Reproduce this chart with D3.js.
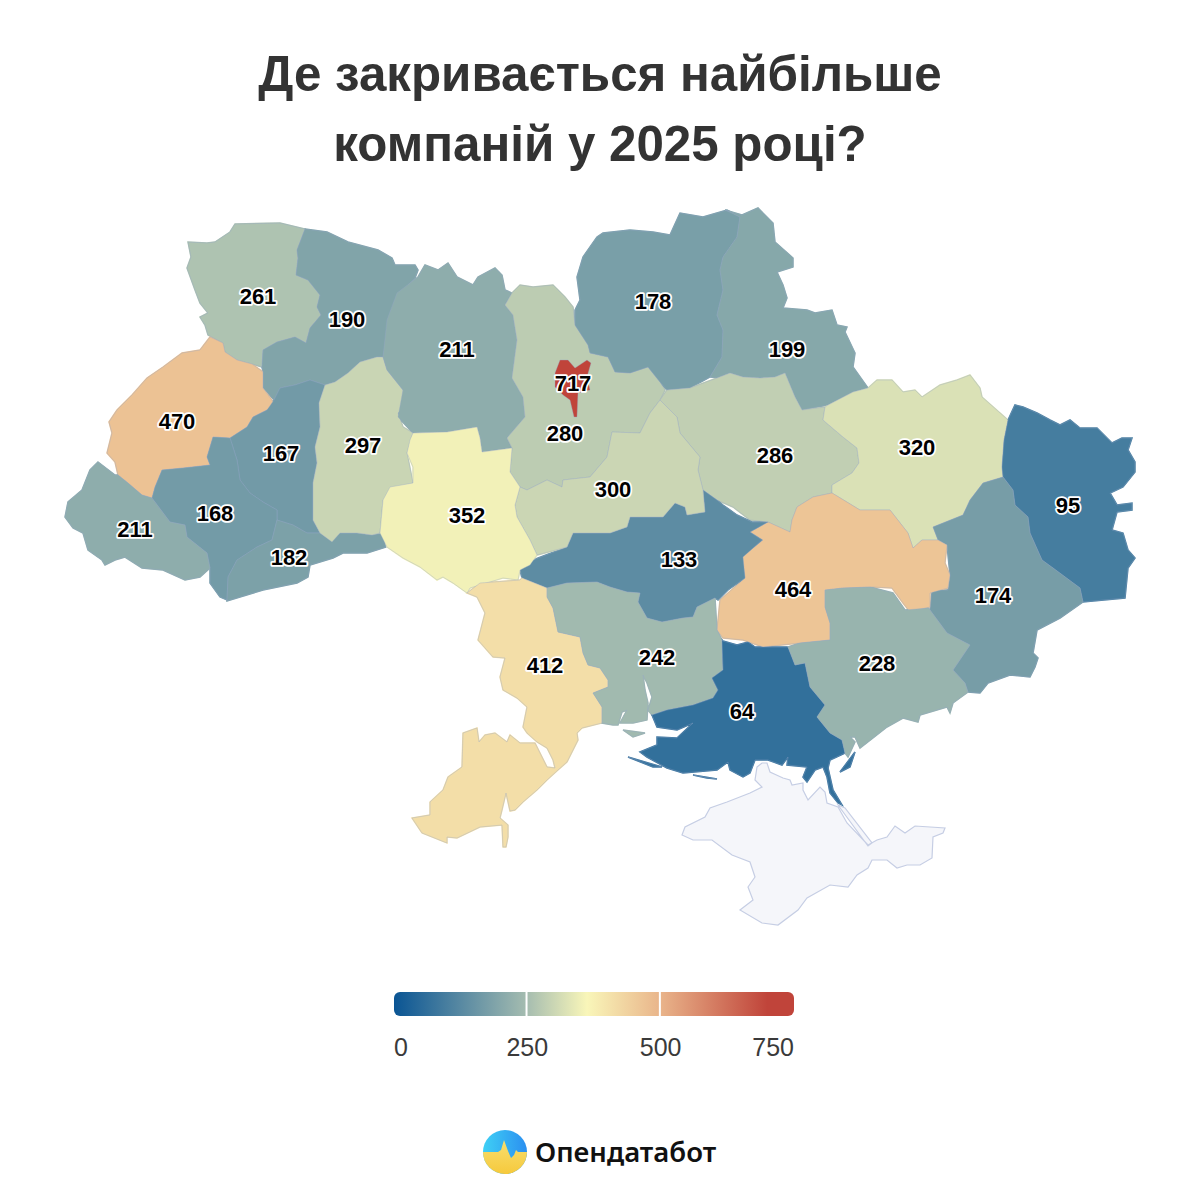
<!DOCTYPE html>
<html lang="uk">
<head>
<meta charset="utf-8">
<title>Де закривається найбільше компаній у 2025 році?</title>
<script src="https://cdn.jsdelivr.net/npm/d3@7"></script>
<style>
    html, body { margin: 0; padding: 0; background: #fff; }
    svg { display: block; }
    text { font-family: "Liberation Sans", Arial, sans-serif; }
</style>
</head>
<body>
<svg id="chart" width="1200" height="1200"></svg>
<script>
// Values
const regionNames = ['Волинська', 'Рівненська', 'Львівська', 'Тернопільська', 'Івано-Франківська', 'Закарпатська',
    'Чернівецька', 'Хмельницька', 'Житомирська', 'Київська', 'Чернігівська', 'Сумська', 'Полтавська', 'Харківська',
    'Луганська', 'Донецька', 'Дніпропетровська', 'Кіровоградська', 'Черкаська', 'Вінницька', 'Одеська',
    'Миколаївська', 'Херсонська', 'Запорізька', 'Київ'];
const regionValues = [261, 190, 470, 167, 168, 211, 182, 297, 211, 280, 178, 199, 286, 320, 95, 174, 464, 133, 300, 352, 412, 242, 64, 228, 717];

// Where each number sits on the map, same order as regionNames
const labelPoints = [[258, 297], [347, 320], [177, 422], [281, 454], [215, 514], [135, 530], [289, 558], [363, 446],
    [457, 350], [565, 434], [653, 302], [787, 350], [775, 456], [917, 448], [1068, 506], [993, 596], [793, 590],
    [679, 560], [613, 490], [467, 516], [545, 666], [657, 658], [742, 712], [877, 664], [573, 384]];

// Outlines, same order as regionNames
const regionOutlines = [
    [[[235,224],[280,223],[305,229],[297,250],[298,258],[296,275],[308,280],[320,295],[317,307],[321,315],[310,328],[306,343],[295,337],[277,342],[263,350],[262,367],[252,364],[237,360],[225,352],[223,343],[208,335],[205,325],[200,317],[208,313],[200,303],[195,290],[187,268],[191,257],[188,242],[207,243],[215,242],[230,232]]],
    [[[305,229],[327,232],[348,242],[378,250],[392,258],[395,265],[415,265],[418,270],[415,278],[403,290],[398,302],[390,315],[387,333],[385,347],[383,357],[377,357],[360,362],[348,373],[335,382],[325,385],[310,380],[295,385],[280,388],[274,400],[263,388],[263,372],[262,367],[263,350],[277,342],[295,337],[306,343],[310,328],[321,315],[317,307],[320,295],[308,280],[296,275],[298,258],[297,250]]],
    [[[210,337],[223,343],[225,352],[237,360],[252,364],[263,372],[263,388],[274,403],[267,410],[253,417],[247,427],[230,438],[213,437],[207,457],[210,465],[183,468],[162,470],[155,487],[152,498],[142,495],[128,483],[118,475],[115,462],[107,453],[112,433],[109,422],[117,410],[132,395],[147,378],[163,367],[182,353],[200,350]]],
    [[[274,400],[280,388],[295,385],[310,380],[325,385],[319,403],[320,427],[315,447],[317,463],[313,483],[313,520],[320,533],[307,533],[293,525],[277,520],[277,510],[263,502],[250,493],[240,480],[237,460],[230,438],[247,427],[253,417],[267,410]]],
    [[[213,437],[230,438],[237,460],[240,480],[250,493],[263,502],[277,510],[277,520],[272,540],[257,547],[237,560],[228,577],[227,600],[220,597],[210,583],[210,568],[207,553],[187,537],[185,525],[170,522],[152,498],[155,487],[162,470],[183,468],[210,465],[207,457]]],
    [[[98,462],[115,475],[118,475],[128,483],[142,495],[152,498],[170,522],[185,525],[187,537],[207,553],[210,568],[200,577],[185,580],[163,570],[142,568],[125,557],[115,560],[105,565],[102,560],[88,550],[83,533],[73,528],[65,517],[68,502],[82,490],[90,470]]],
    [[[277,520],[293,525],[307,533],[320,533],[330,540],[340,533],[357,533],[372,535],[383,533],[386,547],[367,553],[343,553],[333,558],[310,565],[308,577],[297,583],[263,590],[240,597],[227,601],[228,577],[237,560],[257,547],[272,540]]],
    [[[377,357],[383,357],[387,370],[403,390],[404,407],[398,413],[403,427],[413,433],[407,453],[413,483],[398,487],[383,500],[380,533],[372,535],[357,533],[340,533],[332,542],[320,533],[313,520],[313,483],[317,463],[315,447],[320,427],[319,403],[325,385],[335,382],[348,373],[360,362]]],
    [[[418,277],[425,265],[438,270],[448,263],[457,277],[473,285],[478,277],[495,268],[502,275],[505,290],[512,293],[505,305],[513,315],[517,340],[512,378],[523,397],[525,417],[507,438],[512,448],[482,452],[480,438],[477,427],[447,432],[413,433],[398,417],[403,390],[387,370],[383,357],[387,320],[397,293]]],
    [[[512,293],[520,285],[533,287],[553,285],[565,297],[573,307],[575,325],[588,345],[590,353],[608,357],[615,372],[630,373],[648,367],[660,382],[665,390],[660,400],[650,413],[640,433],[612,432],[607,457],[590,477],[563,480],[562,487],[547,480],[527,490],[520,487],[510,472],[512,448],[507,438],[525,417],[523,397],[512,378],[517,340],[513,315],[505,305]]],
    [[[575,310],[580,300],[577,277],[583,257],[597,237],[603,233],[630,230],[653,232],[670,235],[680,213],[703,217],[727,210],[740,217],[737,237],[723,257],[720,270],[723,290],[717,315],[723,330],[722,357],[710,377],[690,388],[667,390],[660,382],[648,367],[630,373],[615,372],[608,357],[590,353],[588,345],[575,325]]],
    [[[725,210],[742,215],[758,208],[773,223],[775,242],[793,258],[793,267],[777,272],[783,285],[787,298],[783,308],[807,310],[815,313],[832,310],[837,325],[847,327],[845,332],[855,353],[853,367],[868,388],[853,392],[828,405],[802,410],[795,397],[785,373],[775,377],[760,378],[743,377],[730,373],[717,378],[710,377],[722,357],[723,330],[717,315],[723,290],[720,270],[723,257],[737,237],[740,217]]],
    [[[667,390],[690,388],[717,378],[730,373],[743,377],[760,378],[775,377],[785,373],[795,397],[802,410],[825,407],[823,420],[843,437],[857,448],[859,463],[852,473],[832,485],[832,493],[813,497],[797,507],[792,520],[790,532],[768,522],[750,520],[733,507],[717,500],[703,490],[698,470],[700,457],[680,433],[677,417],[660,400]]],
    [[[825,407],[828,405],[853,392],[868,388],[877,380],[892,380],[903,392],[915,390],[922,397],[940,385],[957,380],[970,375],[980,388],[982,397],[1008,420],[1004,440],[1002,467],[1003,477],[983,483],[970,500],[963,515],[933,527],[938,540],[922,540],[913,548],[908,533],[890,510],[860,510],[832,493],[832,485],[852,473],[859,463],[857,448],[843,437],[823,420]]],
    [[[1008,420],[1015,405],[1023,407],[1037,413],[1050,420],[1060,425],[1070,420],[1080,428],[1097,428],[1112,443],[1122,438],[1132,438],[1128,450],[1135,462],[1135,472],[1123,487],[1110,493],[1117,505],[1132,503],[1132,510],[1117,512],[1112,530],[1123,533],[1128,550],[1135,558],[1128,568],[1125,598],[1083,602],[1080,588],[1053,568],[1042,560],[1030,533],[1028,517],[1015,505],[1013,490],[1003,477],[1002,467],[1004,440]]],
    [[[983,483],[1003,477],[1013,490],[1015,505],[1028,517],[1030,533],[1042,560],[1053,568],[1080,588],[1083,602],[1060,618],[1037,630],[1033,653],[1038,658],[1035,667],[1030,677],[1010,675],[988,683],[980,693],[968,692],[965,683],[953,670],[970,645],[947,633],[930,610],[932,590],[948,590],[950,575],[947,545],[938,540],[933,527],[963,515],[970,500]]],
    [[[832,493],[860,510],[890,510],[908,533],[913,548],[922,540],[938,540],[947,545],[945,563],[950,575],[948,588],[930,593],[930,607],[910,612],[903,603],[892,588],[873,587],[843,588],[825,590],[825,607],[830,623],[830,640],[800,643],[763,647],[743,640],[723,638],[717,630],[720,600],[745,578],[742,557],[763,540],[750,532],[768,522],[790,532],[792,520],[797,507],[813,497]]],
    [[[520,570],[533,560],[567,547],[573,533],[610,533],[627,527],[630,517],[663,517],[675,503],[685,507],[687,515],[705,512],[703,490],[717,500],[723,505],[737,515],[752,522],[768,522],[750,532],[762,540],[743,557],[745,578],[728,590],[718,600],[715,598],[697,607],[693,617],[683,618],[662,622],[647,618],[638,602],[640,593],[627,592],[610,587],[597,582],[567,583],[547,588],[522,578]]],
    [[[660,400],[677,417],[680,433],[700,457],[698,470],[703,490],[705,512],[687,515],[685,507],[675,503],[663,517],[630,517],[627,527],[610,533],[573,533],[567,547],[537,555],[530,540],[517,517],[515,505],[520,487],[527,490],[547,480],[562,487],[563,480],[590,477],[607,457],[612,432],[640,433],[650,413]]],
    [[[413,433],[447,432],[477,427],[480,438],[482,452],[512,448],[510,472],[520,487],[515,505],[517,517],[530,540],[537,555],[530,565],[520,570],[518,580],[503,578],[470,588],[467,593],[453,583],[443,577],[437,580],[420,567],[403,558],[387,547],[380,533],[383,500],[390,487],[413,483],[413,467],[407,453],[410,440]]],
    [[[467,593],[480,583],[520,580],[522,578],[547,588],[547,597],[553,608],[558,632],[580,637],[583,653],[588,665],[600,668],[608,680],[608,687],[593,693],[602,707],[602,723],[582,728],[577,733],[578,740],[567,762],[558,770],[547,780],[537,790],[523,802],[515,810],[510,811],[506,793],[502,810],[500,818],[508,825],[508,837],[506,847],[503,847],[502,825],[480,827],[457,838],[447,837],[447,843],[422,833],[412,818],[430,815],[430,802],[443,790],[448,777],[462,767],[463,733],[477,728],[479,742],[485,735],[495,733],[507,742],[510,735],[520,743],[535,743],[547,767],[555,768],[553,760],[547,748],[537,742],[527,733],[523,727],[527,707],[517,698],[503,690],[500,677],[505,658],[493,657],[478,640],[485,613],[477,597]]],
    [[[547,588],[567,583],[597,582],[610,587],[627,592],[640,593],[638,602],[647,618],[662,622],[683,618],[693,617],[697,607],[715,598],[717,630],[722,640],[723,670],[712,678],[718,690],[713,698],[693,705],[667,710],[652,715],[648,710],[652,697],[647,683],[643,675],[645,690],[648,703],[647,720],[633,723],[620,723],[627,710],[622,712],[618,725],[613,725],[602,723],[602,707],[593,693],[608,687],[608,680],[600,668],[588,665],[583,653],[580,637],[558,632],[553,608],[547,597]],
     [[623,730],[645,733],[633,737]]],
    [[[723,641],[737,645],[748,642],[755,647],[788,647],[795,665],[805,663],[810,687],[825,705],[817,717],[830,733],[842,740],[845,753],[830,760],[828,768],[833,790],[842,805],[838,803],[830,793],[827,777],[823,767],[815,770],[807,782],[803,777],[807,767],[787,765],[788,757],[782,765],[768,760],[755,760],[750,773],[743,777],[730,770],[728,762],[717,770],[683,773],[667,768],[647,757],[640,752],[657,745],[657,737],[677,738],[693,723],[677,730],[657,727],[652,715],[667,710],[693,705],[713,698],[718,690],[712,678],[723,670],[722,640]],
     [[628,757],[662,767],[653,767]],
     [[693,775],[717,779],[707,778]],
     [[840,772],[855,752],[850,767]]],
    [[[825,590],[843,588],[870,587],[893,593],[905,610],[928,608],[930,610],[947,633],[970,645],[953,670],[965,683],[968,692],[953,703],[950,713],[947,707],[920,715],[918,722],[903,718],[887,727],[873,738],[860,748],[855,737],[850,737],[855,742],[848,757],[845,753],[842,740],[830,733],[817,717],[825,705],[810,687],[805,663],[795,665],[788,647],[800,643],[830,640],[830,623],[825,607]]],
    [[[560,360],[568,360],[575,368],[587,360],[591,363],[587,377],[590,390],[578,393],[577,417],[574,417],[570,400],[563,395],[555,387],[555,373]]]
];

const crimeaOutline = [
    [[757,767],[762,763],[767,763],[770,772],[783,778],[790,780],[792,785],[803,783],[803,790],[808,800],[820,787],[825,792],[827,803],[838,807],[847,823],[868,845],[877,840],[887,837],[895,826],[905,833],[915,826],[945,828],[943,833],[933,837],[932,858],[920,865],[907,865],[897,868],[887,860],[872,860],[868,868],[857,875],[848,887],[830,885],[807,898],[798,910],[778,925],[762,923],[740,910],[753,900],[748,887],[755,877],[750,862],[732,855],[712,840],[693,840],[682,835],[685,827],[705,817],[710,808],[727,802],[750,793],[762,787],[755,780]],
    [[838,805],[845,808],[872,843],[868,846]]
];

const titleLines = ['Де закривається найбільше', 'компаній у 2025 році?'];
const legendTicks = [0, 250, 500, 750];
const colorDomain = [0, 250, 362, 500, 700, 750];
const colorRange = ['#0a5594', '#a6bdb0', '#f9f6b9', '#e9b48a', '#c0443a', '#c0443a'];

const svg = d3.select('#chart');
const color = d3.scaleLinear().domain(colorDomain).range(colorRange);
const path = d3.geoPath(d3.geoIdentity());

const asFeature = (rings) => ({
    type: 'Feature',
    geometry: { type: 'MultiPolygon', coordinates: rings.map(r => [[...r, r[0]]]) }
});

// Title
svg.append('g').selectAll('text')
    .data(titleLines)
    .enter()
    .append('text')
    .attr('x', 600)
    .attr('y', (d, i) => 91 + i * 70)
    .attr('text-anchor', 'middle')
    .attr('font-size', 49.3)
    .attr('font-weight', 700)
    .attr('fill', '#333')
    .text(d => d);

// Map
const map = svg.append('g').attr('class', 'map');

map.append('path')
    .datum(asFeature(crimeaOutline))
    .attr('d', path)
    .attr('fill', '#f5f6fa')
    .attr('stroke', '#c6cee4')
    .attr('stroke-width', 1.2);

// Under-layer closes hairline gaps between neighbours
map.append('g').selectAll('path')
    .data(regionOutlines)
    .enter()
    .append('path')
    .attr('d', d => path(asFeature(d)))
    .attr('fill', (d, i) => color(regionValues[i]))
    .attr('stroke', (d, i) => color(regionValues[i]))
    .attr('stroke-width', 1.5);

map.append('g').selectAll('path')
    .data(regionOutlines)
    .enter()
    .append('path')
    .attr('class', 'region')
    .attr('d', d => path(asFeature(d)))
    .attr('fill', (d, i) => color(regionValues[i]))
    .attr('stroke', 'rgba(150, 165, 200, 0.35)')
    .attr('stroke-width', 1)
    .append('title')
    .text((d, i) => `${regionNames[i]}: ${regionValues[i]}`);

// Numbers
map.append('g').selectAll('text')
    .data(regionValues)
    .enter()
    .append('text')
    .attr('x', (d, i) => labelPoints[i][0])
    .attr('y', (d, i) => labelPoints[i][1])
    .attr('dy', '0.32em')
    .attr('text-anchor', 'middle')
    .attr('font-size', 22)
    .attr('font-weight', 700)
    .attr('fill', '#000')
    .attr('stroke', '#fff')
    .attr('stroke-width', 3.5)
    .attr('stroke-linejoin', 'round')
    .attr('paint-order', 'stroke')
    .text(d => d);

// Legend
const legendX = d3.scaleLinear().domain([0, 750]).range([394, 794]);
const defs = svg.append('defs');
const legendGradient = defs.append('linearGradient').attr('id', 'legend-gradient');
legendGradient.selectAll('stop')
    .data(colorDomain)
    .enter()
    .append('stop')
    .attr('offset', d => d / 750)
    .attr('stop-color', d => color(d));

const legend = svg.append('g').attr('class', 'legend');
legend.append('rect')
    .attr('x', legendX(0))
    .attr('y', 992)
    .attr('width', legendX(750) - legendX(0))
    .attr('height', 24)
    .attr('rx', 6)
    .attr('fill', 'url(#legend-gradient)');

legend.selectAll('line')
    .data(legendTicks.slice(1, -1))
    .enter()
    .append('line')
    .attr('x1', d => legendX(d) - 0.8)
    .attr('x2', d => legendX(d) - 0.8)
    .attr('y1', 992)
    .attr('y2', 1016)
    .attr('stroke', '#fff')
    .attr('stroke-width', 2);

legend.selectAll('text')
    .data(legendTicks)
    .enter()
    .append('text')
    .attr('x', d => legendX(d))
    .attr('y', 1056)
    .attr('text-anchor', (d, i) => i === 0 ? 'start' : i === legendTicks.length - 1 ? 'end' : 'middle')
    .attr('font-size', 25)
    .attr('fill', '#3a3a3a')
    .text(d => d);

// Logo
const logo = svg.append('g').attr('class', 'logo').attr('transform', 'translate(505, 1152)');
const skyGradient = defs.append('linearGradient').attr('id', 'logo-sky').attr('x1', 0).attr('y1', 0).attr('x2', 1).attr('y2', 0);
skyGradient.append('stop').attr('offset', 0).attr('stop-color', '#3fd0f5');
skyGradient.append('stop').attr('offset', 1).attr('stop-color', '#2b8ff0');
const fieldGradient = defs.append('linearGradient').attr('id', 'logo-field').attr('x1', 0).attr('y1', 0).attr('x2', 0).attr('y2', 1);
fieldGradient.append('stop').attr('offset', 0).attr('stop-color', '#f8df70');
fieldGradient.append('stop').attr('offset', 1).attr('stop-color', '#f6c93c');
defs.append('clipPath').attr('id', 'logo-clip').append('circle').attr('r', 22);

const logoInner = logo.append('g').attr('clip-path', 'url(#logo-clip)');
logoInner.append('rect').attr('x', -22).attr('y', -22).attr('width', 44).attr('height', 44).attr('fill', 'url(#logo-sky)');
logoInner.append('path')
    .attr('d', 'M-22,0 L-7,0 L-4,-2 L-1,-12 L3,-1 L6,6 L9,3 L11,-2 L13,0 L22,0 L22,22 L-22,22 Z')
    .attr('fill', 'url(#logo-field)');

svg.append('text')
    .attr('x', 535)
    .attr('y', 1162)
    .attr('font-size', 27.5)
    .attr('font-weight', 600)
    .attr('fill', '#111')
    .style('font-family', '"Noto Sans", sans-serif')
    .text('Опендатабот');
</script>
</body>
</html>
